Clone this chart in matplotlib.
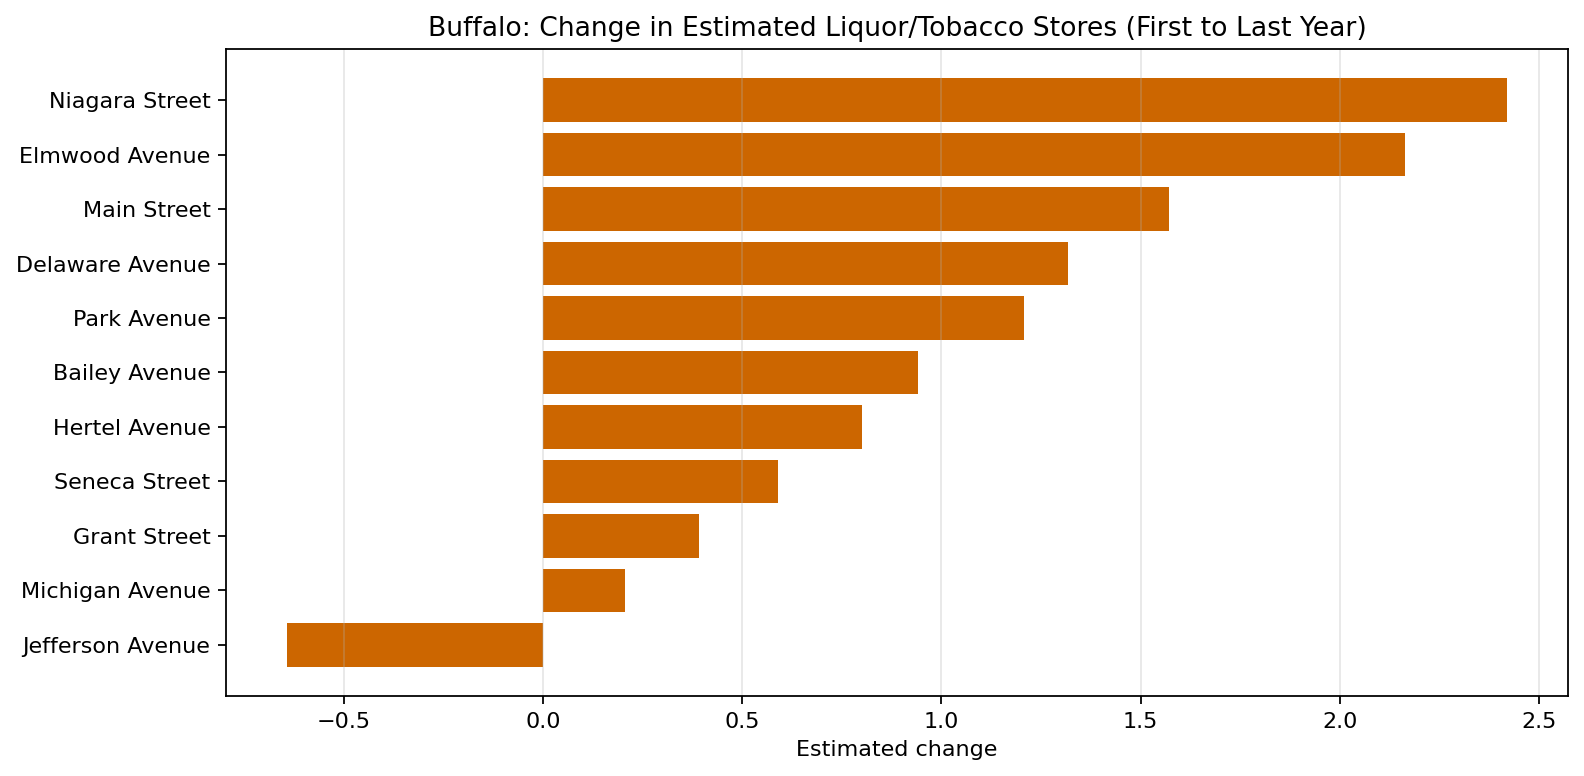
import matplotlib
matplotlib.use("Agg")
import matplotlib.pyplot as plt

# Estimated change per corridor (bottom to top in the chart)
streets = [
    "Jefferson Avenue", "Michigan Avenue", "Grant Street", "Seneca Street",
    "Hertel Avenue", "Bailey Avenue", "Park Avenue", "Delaware Avenue",
    "Main Street", "Elmwood Avenue", "Niagara Street",
]
changes = [-0.642, 0.207, 0.392, 0.590, 0.801, 0.940, 1.207, 1.318, 1.572, 2.163, 2.419]

BAR_COLOR = "#CC6600"
DPI = 160

fig, ax = plt.subplots(figsize=(1584 / DPI, 776 / DPI), dpi=DPI)
fig.subplots_adjust(left=0.1427, right=0.9899, top=0.9369, bottom=0.1031)

ax.barh(streets, changes, color=BAR_COLOR)
ax.set_title("Buffalo: Change in Estimated Liquor/Tobacco Stores (First to Last Year)")
ax.set_xlabel("Estimated change")
ax.grid(True, axis="x", alpha=0.3)

fig.savefig("out.png", dpi=DPI)
